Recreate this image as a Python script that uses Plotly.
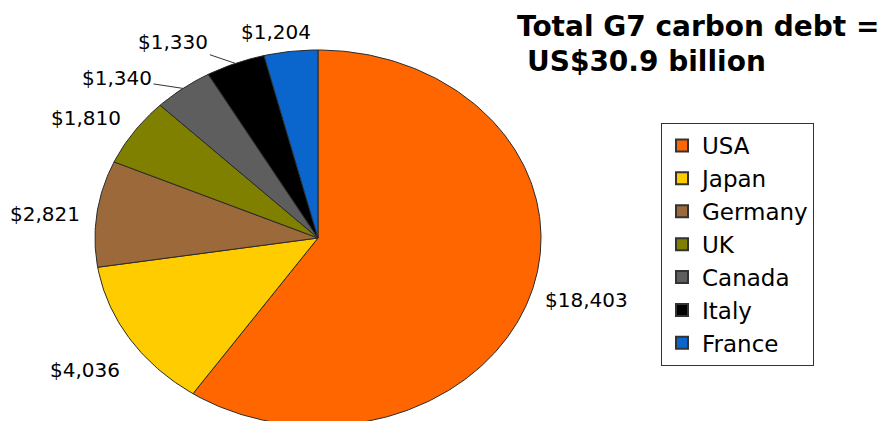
import numpy as np
import plotly.graph_objects as go

# G7 carbon debt by country (US$ million)
countries = ["USA", "Japan", "Germany", "UK", "Canada", "Italy", "France"]
debt = [18403, 4036, 2821, 1810, 1340, 1330, 1204]
colors = ["#FF6600", "#FFCC00", "#9C6A3A", "#7F7F00", "#5E5E5E", "#000000", "#0A66CC"]

total = sum(debt)
fractions = np.array(debt) / total
starts = np.concatenate([[0.0], np.cumsum(fractions)[:-1]])
ends = np.cumsum(fractions)

# Label placement relative to the slice's mid-angle rim point (pixels)
label_anchor = ["left", "right", "right", "right", "right", "right", "center"]
label_dx = [12, -8, -15, -11, 0, 0, -15]
label_dy = [-7, -31, 0, 14, 0, 0, 19]
leader_ax = [None, None, None, None, -66, -62, None]
leader_ay = [None, None, None, None, -10, -21, None]

W, H = 893, 421
cx, cy = 318, 238      # pie centre in pixels
rx, ry = 223, 188      # pie radii in pixels (the pie is drawn stretched)

fig = go.Figure()

# Slices, clockwise from 12 o'clock
for name, s, e, col in zip(countries, starts, ends, colors):
    th = np.linspace(2 * np.pi * s, 2 * np.pi * e, max(int((e - s) * 400), 8))
    xs = np.concatenate([[0.0], np.sin(th), [0.0]])
    ys = np.concatenate([[0.0], np.cos(th), [0.0]])
    fig.add_trace(go.Scatter(
        x=xs, y=ys, mode="lines", fill="toself", fillcolor=col,
        line=dict(color="#2a2a2a", width=1), showlegend=False,
        hoverinfo="skip"))

# Legend entries
for name, col in zip(countries, colors):
    fig.add_trace(go.Scatter(
        x=[None], y=[None], mode="markers", name=name,
        marker=dict(symbol="square", size=15, color=col,
                    line=dict(color="#333333", width=1))))

# Value labels
label_font = dict(family="DejaVu Sans", size=20, color="#000000")
for i, (v, s, e) in enumerate(zip(debt, starts, ends)):
    mid = 2 * np.pi * (s + e) / 2
    px, py = np.sin(mid), np.cos(mid)
    text = f"${v:,}"
    if leader_ax[i] is not None:
        fig.add_annotation(
            x=px, y=py, xref="x", yref="y", text=text, showarrow=True,
            arrowhead=0, arrowwidth=1, arrowcolor="#333333", standoff=0,
            ax=leader_ax[i], ay=leader_ay[i], font=label_font)
    else:
        fig.add_annotation(
            x=px, y=py, xref="x", yref="y", text=text, showarrow=False,
            xanchor=label_anchor[i], yanchor="middle",
            xshift=label_dx[i], yshift=label_dy[i], font=label_font)

# Title
title_font = dict(family="DejaVu Sans", size=28, color="#000000")
fig.add_annotation(
    x=515 / W, y=1 - 8 / H, xref="paper", yref="paper",
    xanchor="left", yanchor="top", showarrow=False, align="left",
    text="<b>Total G7 carbon debt =</b>", font=title_font)
fig.add_annotation(
    x=525 / W, y=1 - 43 / H, xref="paper", yref="paper",
    xanchor="left", yanchor="top", showarrow=False, align="left",
    text=f"<b>US${total / 1000:.1f} billion</b>", font=title_font)

fig.update_layout(
    width=W, height=H,
    margin=dict(l=0, r=0, t=0, b=0),
    paper_bgcolor="white", plot_bgcolor="white",
    xaxis=dict(range=[(0 - cx) / rx, (W - cx) / rx], visible=False, fixedrange=True),
    yaxis=dict(range=[(cy - H) / ry, cy / ry], visible=False, fixedrange=True),
    legend=dict(
        x=661 / W, y=1 - 123 / H, xanchor="left", yanchor="top",
        bordercolor="#333333", borderwidth=1, bgcolor="white",
        font=dict(family="DejaVu Sans", size=23, color="#000000"),
        itemsizing="constant"),
    showlegend=True,
)

fig.write_html("out.html")
